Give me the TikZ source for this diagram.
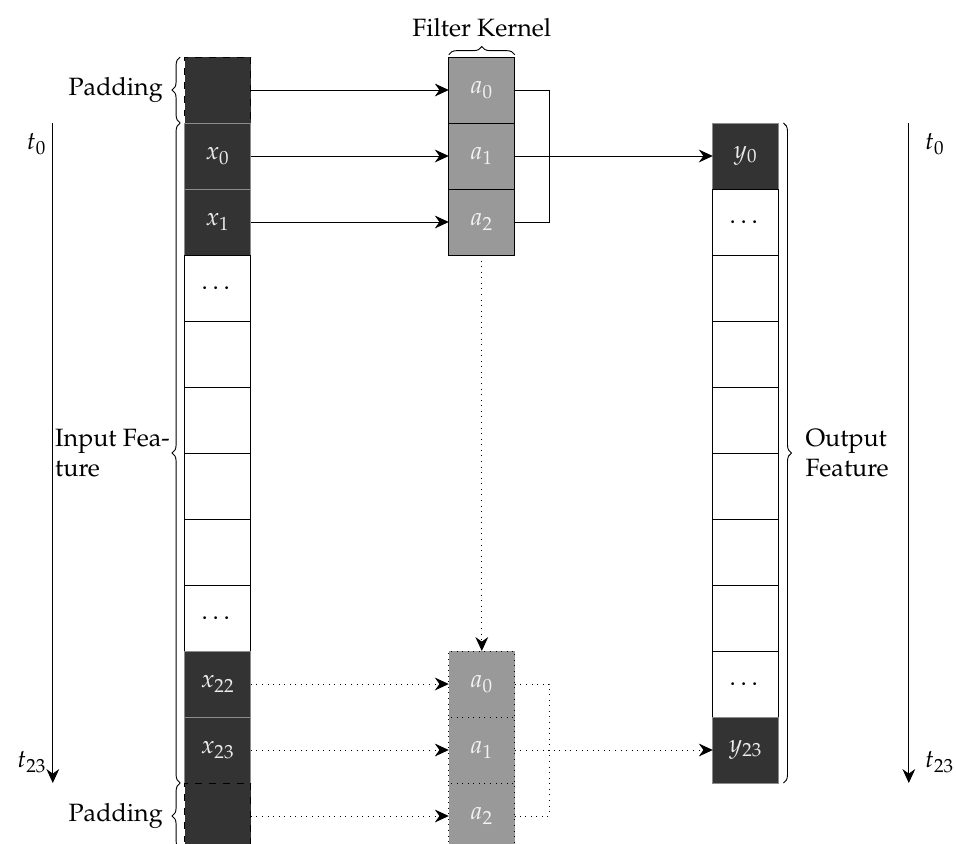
\documentclass[tikz,border=0pt]{standalone}
\usepackage{amsmath,amssymb}
\usepackage[T1]{fontenc}
\usepackage{mathpazo}
\usepackage{xcolor}
\usepackage{tikz}
\usetikzlibrary{arrows.meta}
\usetikzlibrary{positioning}
\usetikzlibrary{decorations.pathreplacing}
\tikzset{
  celula/.style={draw, minimum width=1cm, minimum height=1cm, inner sep=0pt, outer sep=0pt},
  escura/.style={celula, fill=black!80, draw=black!45, text=black!8},
  kernel/.style={celula, fill=black!40, text=black!5},
  seta/.style={-{Stealth[length=6pt, width=5.5pt]}},
  chave/.style={decorate, decoration={brace, amplitude=3.5pt}},
}
\begin{document}
\begin{tikzpicture}[font=\fontsize{10.8pt}{13pt}\selectfont]
  \useasboundingbox (0,0) rectangle (14.485,-12.788);
  % input feature column
  \node[escura, draw=black, dashed] (padT) at (3.3,-1.364) {};
  \node[escura, below=0pt of padT] (x0) {$x_0$};
  \node[escura, below=0pt of x0] (x1) {$x_1$};
  \node[celula, below=0pt of x1] (xd1) {$\dots$};
  \node[celula, below=0pt of xd1] (xb1) {};
  \node[celula, below=0pt of xb1] (xb2) {};
  \node[celula, below=0pt of xb2] (xb3) {};
  \node[celula, below=0pt of xb3] (xb4) {};
  \node[celula, below=0pt of xb4] (xd2) {$\dots$};
  \node[escura, below=0pt of xd2] (x22) {$x_{22}$};
  \node[escura, below=0pt of x22] (x23) {$x_{23}$};
  \node[escura, draw=black, dashed, below=0pt of x23] (padB) {};
  % filter kernel (first and last position)
  \node[kernel, right=3cm of padT] (k0) {$a_0$};
  \node[kernel, below=0pt of k0] (k1) {$a_1$};
  \node[kernel, below=0pt of k1] (k2) {$a_2$};
  \node[kernel, dotted, right=3cm of x22] (b0) {$a_0$};
  \node[kernel, dotted, below=0pt of b0] (b1) {$a_1$};
  \node[kernel, dotted, below=0pt of b1] (b2) {$a_2$};
  % output feature column
  \node[escura, right=3cm of k1] (y0) {$y_0$};
  \node[celula, below=0pt of y0] (yd1) {$\dots$};
  \node[celula, below=0pt of yd1] (yb1) {};
  \node[celula, below=0pt of yb1] (yb2) {};
  \node[celula, below=0pt of yb2] (yb3) {};
  \node[celula, below=0pt of yb3] (yb4) {};
  \node[celula, below=0pt of yb4] (yb5) {};
  \node[celula, below=0pt of yb5] (yb6) {};
  \node[celula, below=0pt of yb6] (yd2) {$\dots$};
  \node[escura, below=0pt of yd2] (y23) {$y_{23}$};
  % braces
  \draw[chave] ([xshift=-2pt]padT.south west) -- ([xshift=-2pt]padT.north west)
    node[midway, left=4pt] (lpadT) {Padding};
  \draw[chave] ([xshift=-2pt]x23.south west) -- ([xshift=-2pt]x0.north west)
    node[midway, left=1pt, align=left] (lin) {Input Fea-\\ture};
  \draw[chave] ([xshift=-2pt]padB.south west) -- ([xshift=-2pt]padB.north west)
    node[midway, left=4pt] (lpadB) {Padding};
  \draw[chave] ([yshift=1pt]k0.north west) -- ([yshift=1pt]k0.north east)
    node[midway, above=4pt] (lk) {Filter Kernel};
  \draw[chave] ([xshift=2pt]y0.north east) -- ([xshift=2pt]y23.south east)
    node[midway, right=6pt, align=left] (lout) {Output\\Feature};
  % time axes
  \coordinate (tl0) at ([xshift=-2.5cm]x0.north);
  \coordinate (tl1) at ([xshift=-2.5cm]x23.south);
  \coordinate (tr0) at ([xshift=2.47cm]y0.north);
  \coordinate (tr1) at ([xshift=2.47cm]y23.south);
  \draw[seta] (tl0) -- (tl1);
  \draw[seta] (tr0) -- (tr1);
  \node[below left=1pt and -0.8pt of tl0] (lt0) {$t_0$};
  \node[above left=1pt and -0.8pt of tl1] (lt23) {$t_{23}$};
  \node[below right=1pt and 3.5pt of tr0] (rt0) {$t_0$};
  \node[above right=1pt and 3.5pt of tr1] (rt23) {$t_{23}$};
  % connections
  \draw[seta] (padT) -- (k0);
  \draw[seta] (x0) -- (k1);
  \draw[seta] (x1) -- (k2);
  \draw (k0.east) -- ++(0.52,0) |- (k2.east);
  \draw[seta] (k1) -- (y0);
  \draw[seta, dotted] (k2) -- (b0);
  \draw[seta, dotted] (x22) -- (b0);
  \draw[seta, dotted] (x23) -- (b1);
  \draw[seta, dotted] (padB) -- (b2);
  \draw[dotted] (b0.east) -- ++(0.52,0) |- (b2.east);
  \draw[seta, dotted] (b1) -- (y23);
\end{tikzpicture}
\end{document}
